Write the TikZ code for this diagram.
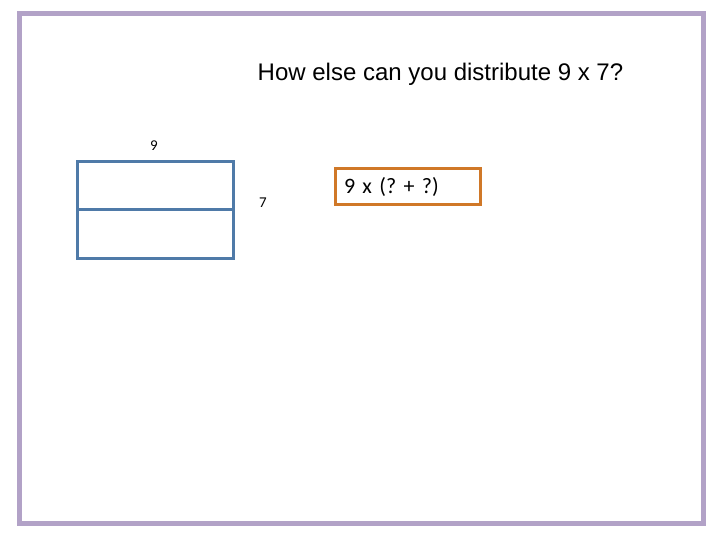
\documentclass[tikz,border=0pt]{standalone}
\usepackage{fontspec}
\setmainfont{Liberation Sans}
\newfontfamily\calibri{Carlito}
\usetikzlibrary{positioning}
\definecolor{framepurple}{RGB}{178,162,199}
\definecolor{boxblue}{RGB}{79,122,168}
\definecolor{boxorange}{RGB}{208,120,40}
\frenchspacing
\tikzset{
    x=1pt,
    y=-1pt,
    frame/.style = {
        draw=framepurple,
        line width=5pt
    },
    block/.style = {
        draw=boxblue,
        line width=3pt
    },
    answer/.style = {
        draw=boxorange,
        line width=3pt,
        shape=rectangle,
        minimum width=145pt,
        minimum height=36pt,
        inner sep=0pt,
        text width=127pt,
        align=left,
        font=\calibri\fontsize{22}{26}\selectfont
    },
    side/.style = {
        font=\calibri\fontsize{15}{18}\selectfont
    },
}
\begin{document}
\begin{tikzpicture}
    \useasboundingbox (0,0) rectangle (720,540);
    \draw[frame] (19.5,14) rectangle (703.5,523);

    \node[font=\fontsize{24}{28}\selectfont] (title) at (440.5,74) {How else can you distribute 9 x 7?};

    % array of 9 by 7
    \draw[block] (77,162) rectangle (233,258);
    \draw[block] (77,210) -- (233,210);
    \node[side] (top) at (154,146) {9};
    \node[side] (right) at (263,203) {7};

    \node[answer] (split) at (407.5,187) {9 x (? + ?)};
\end{tikzpicture}
\end{document}
